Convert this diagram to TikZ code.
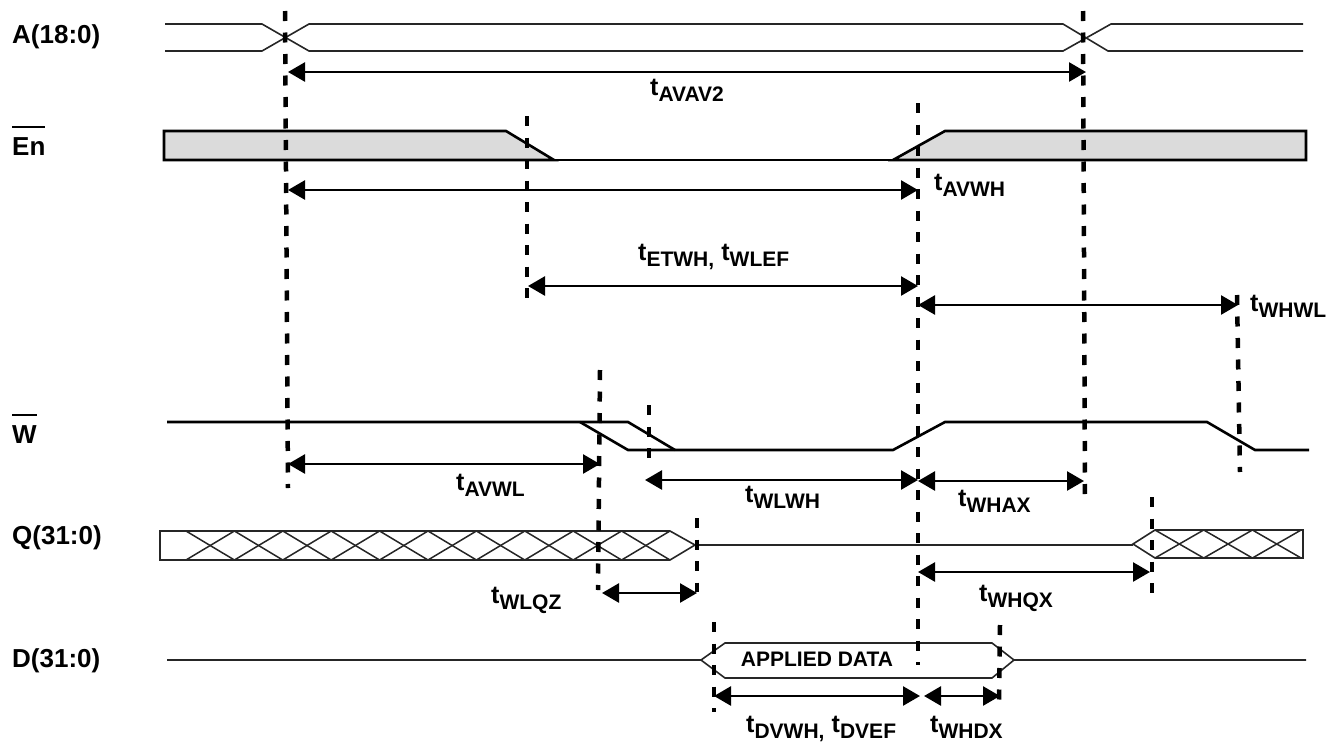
\documentclass[tikz,border=0pt]{standalone}
\usepackage{fontspec}
\setmainfont{Liberation Sans}
\usetikzlibrary{arrows.meta}

\newcommand{\tm}[1]{{\fontsize{25}{25}\selectfont t}\raisebox{-6.5pt}{\fontsize{21}{21}\selectfont #1}}
\newcommand{\barred}[1]{\setbox0\hbox{#1}\rlap{\rule[27pt]{\wd0}{1.8pt}}\box0}

\begin{document}
\begin{tikzpicture}[x=1pt, y=-1pt, >={Triangle[length=17pt, width=19pt]}, font=\fontsize{26}{26}\selectfont\bfseries]
  \tikzstyle{signame}=[anchor=base west, inner sep=0pt]
  \tikzstyle{timelabel}=[anchor=base west, inner sep=0pt]
  \tikzstyle{thinwave}=[line width=1.6pt, black!85]
  \tikzstyle{thickwave}=[line width=2.6pt, line join=miter]
  \tikzstyle{hatch}=[line width=1.5pt, black!85]
  \tikzstyle{guide}=[line width=4.5pt, dash pattern=on 10pt off 11.5pt]
  \tikzstyle{span}=[<->, line width=2.6pt]

  \useasboundingbox (0,0) rectangle (1326,742);

  % Signal names (left column)
  \node[signame] (a) at (12,43) {A(18:0)};
  \node[signame] (en) at (12,155) {\barred{En}};
  \node[signame] (w) at (12,443) {\barred{W}};
  \node[signame] (q) at (12,544) {Q(31:0)};
  \node[signame] (d) at (12,667) {D(31:0)};

  % Address bus
  \draw[thinwave] (165,24) -- (262,24) -- (309,51) -- (1063,51) -- (1111,24) -- (1303,24);
  \draw[thinwave] (165,51) -- (262,51) -- (309,24) -- (1063,24) -- (1108,51) -- (1303,51);

  % Enable
  \draw[thickwave, fill=black!14] (164,131) -- (506,131) -- (554,160) -- (164,160) -- cycle;
  \draw[thickwave, fill=black!14] (893,160) -- (945,131) -- (1306,131) -- (1306,160) -- cycle;
  \draw[line width=2.2pt] (554,160) -- (893,160);

  % Write
  \draw[thickwave] (167,422) -- (628,422) -- (675,450);
  \draw[thickwave] (580,422) -- (628,450) -- (893,450) -- (945,422) -- (1207,422) -- (1255,450) -- (1309,450);

  % Output bus, left part
  \draw[thinwave] (160,531) -- (670,531) -- (695,545) -- (670,560) -- (160,560) -- cycle;
  \foreach \k in {0,...,9} {
    \draw[hatch] ({186+48.4*\k},531) -- ({186+48.4*(\k+1)},560);
    \draw[hatch] ({186+48.4*\k},560) -- ({186+48.4*(\k+1)},531);
  }
  \draw[thinwave] (695,545) -- (1133,545);

  % Output bus, right part
  \draw[thinwave] (1133,544) -- (1155,530) -- (1303,530) -- (1303,558) -- (1155,558) -- cycle;
  \foreach \k in {0,1,2} {
    \draw[hatch] ({1155+48.7*\k},530) -- ({1155+48.7*(\k+1)},558);
    \draw[hatch] ({1155+48.7*\k},558) -- ({1155+48.7*(\k+1)},530);
  }

  % Input bus
  \draw[thinwave] (167,660) -- (701,660) -- (725,643) -- (992,643) -- (1014,660) -- (1306,660);
  \draw[thinwave] (701,660) -- (725,678) -- (992,678) -- (1014,660);
  \node[inner sep=0pt, font=\fontsize{21}{21}\selectfont\bfseries] (applied) at (817,659) {APPLIED DATA};

  % Guide lines (top -> bottom)
  \coordinate (g1t) at (285,11);    \coordinate (g1b) at (288,488);
  \coordinate (g2t) at (527,116);   \coordinate (g2b) at (527,298);
  \coordinate (g3t) at (918,103);   \coordinate (g3b) at (918,665);
  \coordinate (g4t) at (1083,11);   \coordinate (g4b) at (1085,498);
  \coordinate (g5t) at (1237,295);  \coordinate (g5b) at (1240,472);
  \coordinate (g6t) at (600,370);   \coordinate (g6b) at (598,590);
  \coordinate (g7t) at (649,405);   \coordinate (g7b) at (649,458);
  \coordinate (g8t) at (697,518);   \coordinate (g8b) at (697,592);
  \coordinate (g9t) at (714,622);   \coordinate (g9b) at (714,712);
  \coordinate (g10t) at (1000,625); \coordinate (g10b) at (999,710);
  \coordinate (g11t) at (1152,497); \coordinate (g11b) at (1152,597);
  \foreach \g in {1,...,11} {
    \draw[guide] (g\g t) -- (g\g b);
  }

  % Span ends
  \coordinate (avav2l) at (288,72);   \coordinate (avav2r) at (1086,72);
  \coordinate (avwhl) at (288,190);   \coordinate (avwhr) at (918,190);
  \coordinate (etwhl) at (528,286);   \coordinate (etwhr) at (918,286);
  \coordinate (whwll) at (918,305);   \coordinate (whwlr) at (1238,305);
  \coordinate (avwll) at (288,464);   \coordinate (avwlr) at (600,464);
  \coordinate (wlwhl) at (645,480);   \coordinate (wlwhr) at (918,480);
  \coordinate (whaxl) at (918,481);   \coordinate (whaxr) at (1084,481);
  \coordinate (wlqzl) at (602,593);   \coordinate (wlqzr) at (697,593);
  \coordinate (whqxl) at (918,572);   \coordinate (whqxr) at (1150,572);
  \coordinate (dvwhl) at (714,696);   \coordinate (dvwhr) at (920,696);
  \coordinate (whdxl) at (924,696);   \coordinate (whdxr) at (1000,696);

  \draw[span] (avav2l) -- (avav2r);
  \draw[span] (avwhl) -- (avwhr);
  \draw[span] (etwhl) -- (etwhr);
  \draw[span] (whwll) -- (whwlr);
  \draw[span] (avwll) -- (avwlr);
  \draw[span] (wlwhl) -- (wlwhr);
  \draw[span] (whaxl) -- (whaxr);
  \draw[span] (wlqzl) -- (wlqzr);
  \draw[span] (whqxl) -- (whqxr);
  \draw[span] (dvwhl) -- (dvwhr);
  \draw[span] (whdxl) -- (whdxr);

  % Timing labels
  \node[timelabel] (lavav2) at (650,95) {\tm{AVAV2}};
  \node[timelabel] (lavwh) at (934,190) {\tm{AVWH}};
  \node[timelabel] (letwh) at (638,260) {\tm{ETWH,} \tm{WLEF}};
  \node[timelabel] (lwhwl) at (1250,311) {\tm{WHWL}};
  \node[timelabel] (lavwl) at (456,490) {\tm{AVWL}};
  \node[timelabel] (lwlwh) at (745,502) {\tm{WLWH}};
  \node[timelabel] (lwhax) at (958,506) {\tm{WHAX}};
  \node[timelabel] (lwlqz) at (491,603) {\tm{WLQZ}};
  \node[timelabel] (lwhqx) at (979,601) {\tm{WHQX}};
  \node[timelabel] (ldvwh) at (746,732) {\tm{DVWH,} \tm{DVEF}};
  \node[timelabel] (lwhdx) at (930,732) {\tm{WHDX}};
\end{tikzpicture}
\end{document}
